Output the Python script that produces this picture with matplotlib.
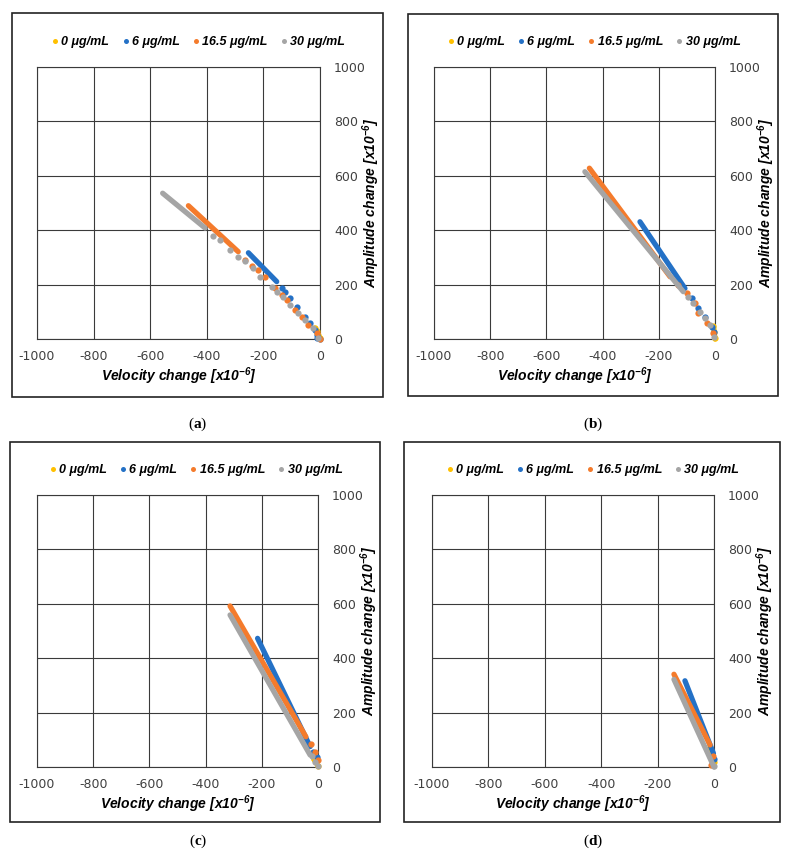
import matplotlib
matplotlib.use("Agg")
import matplotlib.pyplot as plt
from matplotlib.lines import Line2D
from matplotlib.patches import Rectangle

plt.rcParams['mathtext.fontset'] = 'custom'
plt.rcParams['mathtext.rm'] = 'Liberation Sans:bold:italic'
plt.rcParams['mathtext.it'] = 'Liberation Sans:bold:italic'
plt.rcParams['mathtext.bf'] = 'Liberation Serif:bold'
plt.rcParams['axes.unicode_minus'] = False

# ---------------- data ----------------
SERIES = ["0 μg/mL", "6 μg/mL", "16.5 μg/mL", "30 μg/mL"]
COLORS = ["#FFC000", "#2471C6", "#F47B2C", "#A5A5A5"]

X_TICKS = [-1000, -800, -600, -400, -200, 0]
Y_TICKS = [0, 200, 400, 600, 800, 1000]
X_LABEL = r"Velocity change [x10$^{-6}$]"
Y_LABEL = r"Amplitude change [x10$^{-6}$]"
PANELS = ["a", "b", "c", "d"]

# Panel (a): dense segment (line) endpoints and sparse points (dots)
A_Y0_LINE_X = [-18, 0];          A_Y0_LINE_Y = [40, 0]
A_Y0_DOT_X = [-18, -12, -6, 0];  A_Y0_DOT_Y = [40, 28, 15, 2]
A_B6_LINE_X = [-253, -153];      A_B6_LINE_Y = [317, 211]
A_B6_DOT_X = [-135, -124, -106, -82, -53, -35, -18, -12, -12, 0]
A_B6_DOT_Y = [186, 174, 150, 119, 82, 58, 33, 15, 4, 0]
A_O16_LINE_X = [-465, -289];     A_O16_LINE_Y = [490, 321]
A_O16_DOT_X = [-265, -241, -218, -194, -159, -135, -118, -88, -65, -41, -12, 0]
A_O16_DOT_Y = [290, 270, 254, 229, 186, 162, 143, 107, 82, 51, 21, 0]
A_G30_LINE_X = [-556, -406];     A_G30_LINE_Y = [536, 408]
A_G30_DOT_X = [-377, -353, -318, -289, -265, -236, -212, -171, -153, -130, -106, -77, -53, -25, -6]
A_G30_DOT_Y = [379, 364, 327, 303, 287, 260, 229, 192, 174, 156, 125, 94, 70, 40, 3]

# Panel (b)
B_Y0_LINE_X = [-5, 0];           B_Y0_LINE_Y = [45, 0]
B_Y0_DOT_X = [-8, -3, 0];        B_Y0_DOT_Y = [49, 25, 5]
B_B6_LINE_X = [-267, -107];      B_B6_LINE_Y = [431, 186]
B_B6_DOT_X = [-83, -59, -36, -12, -3]
B_B6_DOT_Y = [150, 113, 82, 45, 27]
B_O16_LINE_X = [-447, -160];     B_O16_LINE_Y = [628, 229]
B_O16_DOT_X = [-130, -101, -71, -59, -30, -6]
B_O16_DOT_Y = [197, 168, 131, 94, 58, 21]
B_G30_LINE_X = [-463, -113];     B_G30_LINE_Y = [615, 174]
B_G30_DOT_X = [-95, -77, -53, -36, -18, -4]
B_G30_DOT_Y = [156, 131, 100, 76, 51, 8]

# Panel (c)
C_Y0_LINE_X = [-15, 0];          C_Y0_LINE_Y = [30, 5]
C_Y0_DOT_X = [-15, 0];           C_Y0_DOT_Y = [30, 5]
C_B6_LINE_X = [-215, -28];       C_B6_LINE_Y = [473, 75]
C_B6_DOT_X = [-18, -5];          C_B6_DOT_Y = [55, 38]
C_O16_LINE_X = [-313, -43];      C_O16_LINE_Y = [592, 111]
C_O16_DOT_X = [-25, -11, 0];     C_O16_DOT_Y = [85, 56, 26]
C_G30_LINE_X = [-313, -28];      C_G30_LINE_Y = [559, 44]
C_G30_DOT_X = [-20, -10, 0];     C_G30_DOT_Y = [40, 20, 2]

# Panel (d)
D_Y0_LINE_X = [-20, 0];          D_Y0_LINE_Y = [65, 20]
D_Y0_DOT_X = [-20, 0];           D_Y0_DOT_Y = [65, 20]
D_B6_LINE_X = [-103, -2];        D_B6_LINE_Y = [317, 50]
D_B6_DOT_X = [0];                D_B6_DOT_Y = [30]
D_O16_LINE_X = [-142, -14];      D_O16_LINE_Y = [341, 81]
D_O16_DOT_X = [-11, -3];         D_O16_DOT_Y = [7, 40]
D_G30_LINE_X = [-142, 0];        D_G30_LINE_Y = [322, 0]
D_G30_DOT_X = [0];               D_G30_DOT_Y = [2]

PANEL_DATA = {
    "a": [(A_Y0_LINE_X, A_Y0_LINE_Y, A_Y0_DOT_X, A_Y0_DOT_Y),
          (A_B6_LINE_X, A_B6_LINE_Y, A_B6_DOT_X, A_B6_DOT_Y),
          (A_O16_LINE_X, A_O16_LINE_Y, A_O16_DOT_X, A_O16_DOT_Y),
          (A_G30_LINE_X, A_G30_LINE_Y, A_G30_DOT_X, A_G30_DOT_Y)],
    "b": [(B_Y0_LINE_X, B_Y0_LINE_Y, B_Y0_DOT_X, B_Y0_DOT_Y),
          (B_B6_LINE_X, B_B6_LINE_Y, B_B6_DOT_X, B_B6_DOT_Y),
          (B_O16_LINE_X, B_O16_LINE_Y, B_O16_DOT_X, B_O16_DOT_Y),
          (B_G30_LINE_X, B_G30_LINE_Y, B_G30_DOT_X, B_G30_DOT_Y)],
    "c": [(C_Y0_LINE_X, C_Y0_LINE_Y, C_Y0_DOT_X, C_Y0_DOT_Y),
          (C_B6_LINE_X, C_B6_LINE_Y, C_B6_DOT_X, C_B6_DOT_Y),
          (C_O16_LINE_X, C_O16_LINE_Y, C_O16_DOT_X, C_O16_DOT_Y),
          (C_G30_LINE_X, C_G30_LINE_Y, C_G30_DOT_X, C_G30_DOT_Y)],
    "d": [(D_Y0_LINE_X, D_Y0_LINE_Y, D_Y0_DOT_X, D_Y0_DOT_Y),
          (D_B6_LINE_X, D_B6_LINE_Y, D_B6_DOT_X, D_B6_DOT_Y),
          (D_O16_LINE_X, D_O16_LINE_Y, D_O16_DOT_X, D_O16_DOT_Y),
          (D_G30_LINE_X, D_G30_LINE_Y, D_G30_DOT_X, D_G30_DOT_Y)],
}

# ---------------- layout (pixels) ----------------
W, H = 788, 856
AX_PX = {"a": (37, 320, 67, 339), "b": (434, 715, 67, 339),
         "c": (37, 318, 495, 767), "d": (432, 714, 495, 767)}
BOX_PX = {"a": (12, 383, 13, 397), "b": (408, 778, 14, 396),
          "c": (10, 380, 442, 822), "d": (404, 780, 442, 822)}
CAP_PX = {"a": (198, 424), "b": (593, 424), "c": (198, 841), "d": (593, 841)}
YLAB_PX = {"a": 371, "b": 766, "c": 369, "d": 765}

GRID_C = "#3A3A3A"
TICK_C = "#404040"

fig = plt.figure(figsize=(W / 100, H / 100), dpi=100)
fig.patch.set_facecolor("white")

for p in PANELS:
    # panel frame
    bl, br, bt, bb = BOX_PX[p]
    fig.patches.append(Rectangle((bl / W, 1 - bb / H), (br - bl) / W, (bb - bt) / H,
                                 transform=fig.transFigure, fill=False,
                                 edgecolor="#222222", linewidth=1.2, zorder=0))
    l, r, t, b = AX_PX[p]
    ax = fig.add_axes([l / W, 1 - b / H, (r - l) / W, (b - t) / H])
    ax.set_xlim(X_TICKS[0], X_TICKS[-1])
    ax.set_ylim(Y_TICKS[0], Y_TICKS[-1])
    ax.set_xticks(X_TICKS)
    ax.set_xticklabels([str(v) for v in X_TICKS])
    ax.set_yticks(Y_TICKS)
    ax.set_yticklabels([str(v) for v in Y_TICKS])
    ax.yaxis.tick_right()
    ax.yaxis.set_label_position("right")
    ax.tick_params(axis="both", length=0, labelsize=9, colors=TICK_C,
                   labelfontfamily="DejaVu Sans")
    ax.tick_params(axis="x", pad=8)
    ax.tick_params(axis="y", pad=10)
    ax.grid(True, color=GRID_C, linewidth=0.8)
    ax.set_axisbelow(True)
    for s in ax.spines.values():
        s.set_color(GRID_C)
        s.set_linewidth(0.8)

    for (lx, ly, dx, dy), col in zip(PANEL_DATA[p], COLORS):
        ax.plot(lx, ly, color=col, linewidth=3.8, solid_capstyle="round", zorder=3,
                clip_on=False)
        ax.plot(dx, dy, linestyle="none", marker="o", markersize=4.5,
                markerfacecolor=col, markeredgecolor=col, markeredgewidth=0, zorder=3,
                clip_on=False)

    ax.set_xlabel(X_LABEL, fontsize=10, fontfamily="Liberation Sans",
                  fontweight="bold", fontstyle="italic", labelpad=2, color="black")
    ax.set_ylabel(Y_LABEL, fontsize=10, fontfamily="Liberation Sans",
                  fontweight="bold", fontstyle="italic", color="black",
                  rotation=90, va="center", ha="center")
    ax.yaxis.set_label_coords((YLAB_PX[p] - l) / (r - l), 0.5)

    handles = [Line2D([], [], linestyle="none", marker="o", markersize=3.6,
                      markerfacecolor=c, markeredgecolor=c, markeredgewidth=0)
               for c in COLORS]
    cx = (bl + br) / 2 / W
    cy = 1 - (t - 25) / H
    fig.legend(handles, SERIES, loc="center", bbox_to_anchor=(cx, cy),
               ncol=4, frameon=False, handletextpad=0.1, columnspacing=0.9,
               handlelength=0.8, borderaxespad=0,
               prop={"family": "Liberation Sans", "weight": "bold",
                     "style": "italic", "size": 9})

    cxp, cyp = CAP_PX[p]
    fig.text(cxp / W, 1 - cyp / H, "(" + r"$\mathbf{" + p + "}$" + ")",
             ha="center", va="center", fontsize=11, fontfamily="Liberation Serif")

fig.savefig("out.png", dpi=100, facecolor="white")
